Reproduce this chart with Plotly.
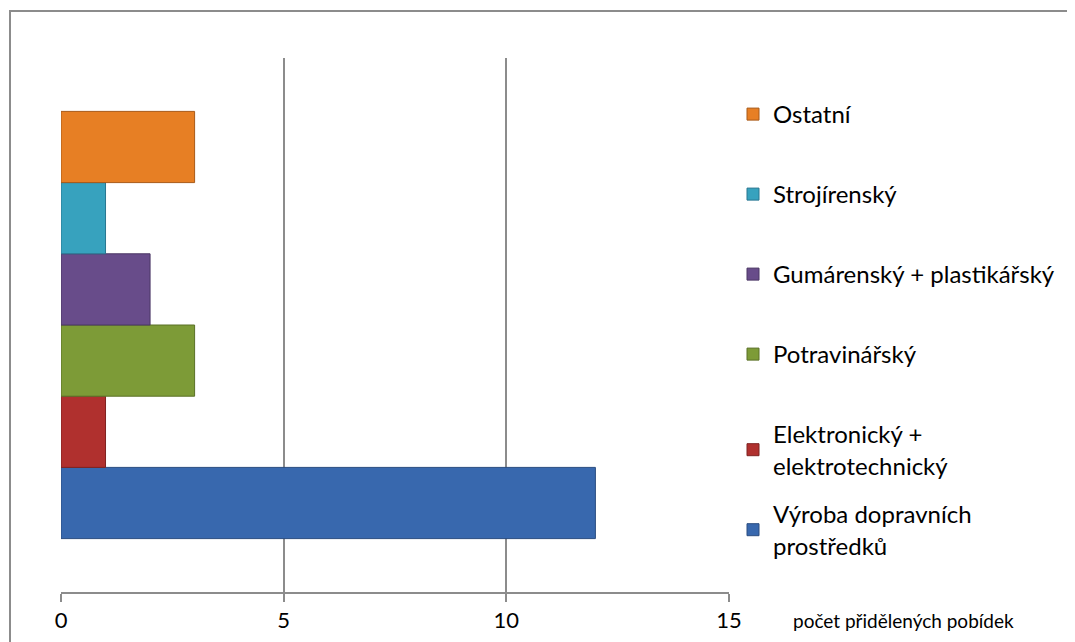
import plotly.graph_objects as go

series_names = [
    "Výroba dopravních<br>prostředků",
    "Elektronický +<br>elektrotechnický",
    "Potravinářský",
    "Gumárenský + plastikářský",
    "Strojírenský",
    "Ostatní",
]
series_values = [12, 1, 3, 2, 1, 3]
series_colors = ["#3868AE", "#B0302E", "#7D9B37", "#684C8A", "#37A2BE", "#E77F24"]
line_colors = ["#2A4D80", "#7E2220", "#5A7026", "#4A3664", "#287690", "#A85A18"]
category = ["pobídky"]
x_ticks = [0, 5, 10, 15]
axis_title = "počet přidělených pobídek"

# layout geometry (figure pixels)
W, H = 1075, 642
L, R, T, B = 53, 354, 50, 58
PW, PH = W - L - R, H - T - B
FONT = "Lato, Open Sans, sans-serif"

def px_x(x):
    return (x - L) / PW

def px_y(y):
    return (H - B - y) / PH

# legend first-line centres (figure px), indexed like series
legend_centres = [506, 426, 346, 266, 186, 106]

fig = go.Figure()
legend_layout = {}
for i, (name, val) in enumerate(zip(series_names, series_values)):
    key = "legend" if i == 0 else f"legend{i + 1}"
    fig.add_trace(go.Bar(
        y=category, x=[val], name=name, orientation="h",
        marker=dict(color=series_colors[i], line=dict(color=line_colors[i], width=1)),
        legend=key,
    ))
    legend_layout[key] = dict(
        x=px_x(725), xanchor="left",
        y=px_y(legend_centres[i] - 22), yanchor="top",
        font=dict(size=24, family=FONT, color="#000000"),
        itemwidth=30, bgcolor="rgba(0,0,0,0)",
    )

fig.update_layout(
    width=W, height=H,
    margin=dict(l=L, r=R, t=T, b=B),
    paper_bgcolor="white", plot_bgcolor="white",
    barmode="group", bargap=0.2, bargroupgap=0,
    font=dict(family=FONT, color="#000000"),
    xaxis=dict(
        range=[0, 15], tickvals=x_ticks, showgrid=True, gridcolor="#8C8C8C", gridwidth=1.5,
        showline=True, linecolor="#8C8C8C", linewidth=1.5,
        ticks="outside", ticklen=8, tickcolor="#8C8C8C", tickwidth=1.5,
        tickfont=dict(size=22, family=FONT), zeroline=False,
    ),
    yaxis=dict(showticklabels=False, showgrid=False, zeroline=False, showline=False,
               range=[-0.5, 0.5]),
    showlegend=True,
    **legend_layout,
)

fig.add_shape(type="rect", xref="paper", yref="paper",
              x0=px_x(2), x1=px_x(1090),
              y0=px_y(660), y1=px_y(3),
              line=dict(color="#8C8C8C", width=2), fillcolor="rgba(0,0,0,0)", layer="below")

fig.add_annotation(text=axis_title, xref="paper", yref="paper",
                   x=px_x(895), y=px_y(612), xanchor="center", yanchor="middle",
                   showarrow=False, font=dict(size=19, family=FONT, color="#000000"))

fig.write_html("out.html")
